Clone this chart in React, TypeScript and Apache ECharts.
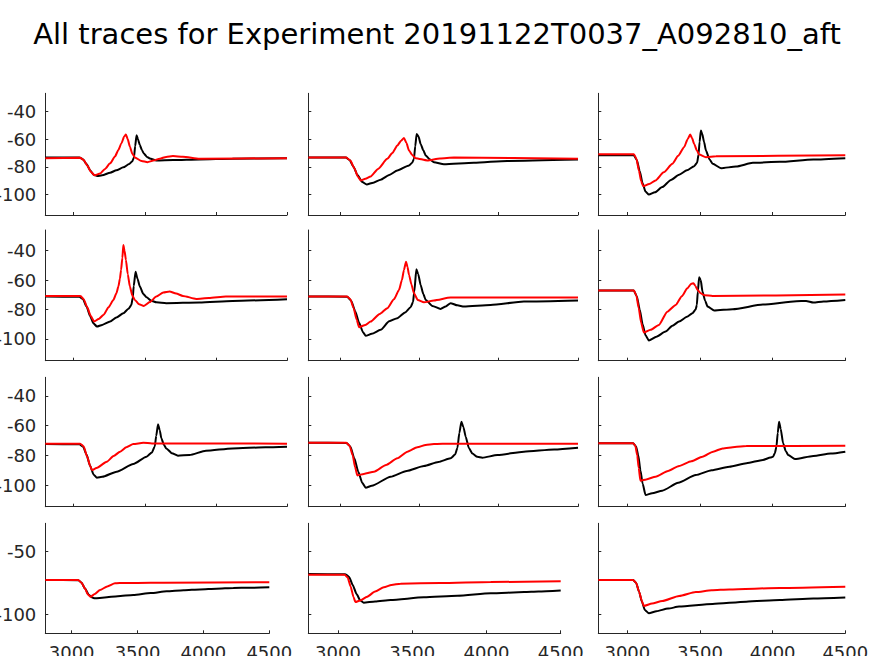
import React, { useEffect, useRef } from "react";
import * as echarts from "echarts";

const TITLE = "All traces for Experiment 20191122T0037_A092810_aft";
const X_TICKS = [3000, 3500, 4000, 4500];
const Y_TICKS_MAIN = [-100, -80, -60, -40];
const Y_TICKS_LAST = [-100, -50];
const X_RANGE = [2800, 4500];
const Y_RANGES = [
  [-115, -26.6],
  [-114.8, -26],
  [-114.6, -27.4],
  [-115, -28.1],
];

// row 1
const r1c1Black = [[2800,-73.2],[3040,-73.3],[3065,-74.5],[3090,-78],[3115,-82.5],[3140,-85.8],[3165,-86.7],[3200,-86.2],[3256,-84.3],[3300,-82.5],[3349,-80.4],[3390,-78],[3412,-76],[3424,-73],[3432,-65],[3442,-57],[3452,-60],[3465,-64.2],[3480,-68],[3493,-70.3],[3515,-72.8],[3535,-73.9],[3581,-75.4],[3700,-75.1],[3884,-74.6],[4116,-74.1],[4500,-73.7]];
const r1c1Red = [[2800,-73.7],[3045,-73.5],[3070,-75],[3095,-79],[3120,-83.5],[3147,-86.2],[3186,-84.8],[3220,-81.5],[3256,-77.5],[3290,-72.5],[3314,-67.8],[3335,-63],[3355,-58],[3367,-56.5],[3380,-60],[3395,-65.4],[3412,-70.5],[3430,-73.2],[3477,-75.8],[3519,-76.6],[3560,-75.5],[3605,-74.1],[3650,-72.8],[3698,-72.2],[3768,-72.7],[3884,-74.1],[4500,-73.7]];
const r1c2Black = [[2800,-73.3],[3036,-73.3],[3060,-75],[3085,-80],[3110,-86],[3140,-91],[3168,-92.8],[3210,-91.5],[3256,-89.4],[3310,-86],[3361,-82.7],[3435,-79],[3455,-77],[3466,-74.2],[3474,-65],[3483,-56.1],[3495,-58],[3508,-63.4],[3525,-68],[3540,-71.8],[3565,-74.5],[3592,-76.6],[3655,-78.1],[3844,-77.1],[4054,-75.7],[4500,-74.7]];
const r1c2Red = [[2800,-73.3],[3040,-73.3],[3065,-75.5],[3090,-81],[3112,-87],[3130,-89.9],[3160,-88.7],[3193,-87],[3240,-81.5],[3298,-74.2],[3330,-70],[3361,-64.6],[3385,-61],[3403,-59],[3418,-62.5],[3435,-68.2],[3455,-71.5],[3477,-73.7],[3550,-75.4],[3630,-74],[3718,-73.3],[4500,-74.2]];
const r1c3Black = [[2800,-71.6],[3044,-71.6],[3065,-75],[3085,-83],[3105,-92],[3125,-98],[3148,-100.2],[3190,-98.5],[3240,-94.7],[3300,-89.5],[3356,-85.8],[3410,-82.5],[3460,-79.5],[3480,-77],[3490,-71],[3497,-62],[3506,-53.7],[3515,-56],[3528,-62],[3541,-68.2],[3565,-74.5],[3587,-77.8],[3645,-81],[3748,-79.8],[3864,-77.1],[4049,-76.4],[4280,-74.7],[4500,-73.7]];
const r1c3Red = [[2800,-70.8],[3045,-70.8],[3062,-74],[3080,-83],[3095,-90.5],[3109,-94.2],[3150,-92.5],[3194,-89.9],[3250,-84],[3310,-77.8],[3350,-72],[3390,-65.8],[3415,-60],[3432,-56.6],[3445,-59],[3460,-63.4],[3478,-68],[3494,-71.1],[3541,-73],[3610,-72.3],[4500,-71.6]];

// row 2
const r2c1Black = [[2800,-71.2],[3040,-71.4],[3065,-73],[3090,-78],[3115,-84.5],[3140,-89.5],[3163,-91.6],[3200,-90.5],[3256,-88.2],[3300,-85.5],[3349,-82.5],[3385,-79.5],[3405,-77],[3415,-72],[3422,-64],[3435,-54.3],[3448,-59],[3465,-64.4],[3490,-69.5],[3512,-71.7],[3545,-74],[3581,-75.1],[3651,-75.7],[3884,-75.3],[4116,-74.2],[4500,-73]];
const r2c1Red = [[2800,-70.8],[3048,-70.9],[3070,-73],[3095,-78.5],[3120,-84.5],[3144,-88.2],[3175,-86.5],[3209,-83.7],[3245,-78.5],[3279,-73.5],[3300,-69],[3314,-64.4],[3325,-59],[3333,-53.1],[3342,-45],[3349,-36.2],[3357,-40],[3367,-46.3],[3380,-56],[3395,-64.4],[3412,-70.5],[3430,-73.5],[3460,-76.5],[3493,-77.6],[3535,-75],[3581,-71.2],[3630,-68.5],[3674,-67.8],[3720,-69.2],[3768,-70.8],[3861,-72.8],[3950,-72.2],[4070,-71.2],[4500,-71.2]];
const r2c2Black = [[2800,-71.2],[3045,-71.3],[3070,-74],[3095,-81],[3120,-89],[3145,-95.5],[3162,-97.9],[3200,-96.5],[3256,-93.8],[3310,-88],[3361,-85.9],[3410,-82],[3445,-78.5],[3460,-75],[3468,-68],[3481,-52.7],[3493,-56],[3508,-63.3],[3525,-69.5],[3540,-73.5],[3582,-77.6],[3634,-79.6],[3666,-78],[3697,-75.7],[3740,-77.2],[3781,-78],[3949,-76.9],[4159,-74.6],[4500,-73.9]];
const r2c2Red = [[2800,-71.2],[3045,-71.2],[3065,-73],[3085,-79],[3105,-87],[3120,-92],[3160,-90.5],[3193,-88.2],[3250,-83],[3298,-79.1],[3340,-73],[3372,-66.7],[3390,-60],[3403,-53.1],[3416,-47.5],[3425,-51],[3435,-56.5],[3450,-63],[3466,-69],[3490,-73.5],[3529,-75.1],[3592,-73.9],[3697,-71.9],[4500,-71.9]];
const r2c3Black = [[2800,-67.1],[3044,-67.1],[3065,-71],[3085,-80],[3105,-90],[3125,-97.5],[3148,-101.1],[3200,-98.5],[3263,-95],[3310,-91],[3356,-88.2],[3410,-85],[3448,-82.5],[3470,-80],[3478,-77],[3485,-68],[3494,-58.1],[3505,-60],[3517,-67.8],[3535,-74],[3552,-78],[3598,-80.7],[3725,-79.8],[3933,-76.7],[4164,-74.4],[4230,-74.2],[4280,-75.3],[4350,-74.5],[4500,-73.5]];
const r2c3Red = [[2800,-67.1],[3045,-67.1],[3062,-70.5],[3078,-79],[3095,-89],[3113,-95.7],[3160,-93.8],[3217,-90.5],[3275,-81.5],[3333,-76.9],[3375,-71],[3413,-65.6],[3440,-62.5],[3455,-62.2],[3468,-64],[3483,-66.7],[3505,-69],[3529,-70.3],[3587,-70.8],[4500,-69.9]];

// row 3
const r3c1Black = [[2800,-72.4],[3040,-72.5],[3065,-74],[3090,-79.5],[3115,-87],[3140,-93],[3163,-95.1],[3200,-94.5],[3302,-91],[3419,-85.8],[3512,-80.9],[3550,-78],[3570,-74],[3580,-67],[3593,-59.1],[3605,-63],[3616,-68.5],[3635,-73],[3651,-75.3],[3690,-78.5],[3733,-80.2],[3814,-79.8],[3930,-76.9],[4116,-75.3],[4349,-74.6],[4500,-74.2]];
const r3c1Red = [[2800,-72.1],[3045,-72.1],[3070,-74],[3095,-81],[3115,-87],[3128,-89.9],[3160,-88.5],[3233,-84.3],[3280,-80.5],[3326,-77.5],[3370,-74.5],[3419,-72.4],[3489,-71.5],[3550,-72],[4500,-72.1]];
const r3c2Black = [[2800,-71.5],[3040,-71.6],[3065,-74],[3090,-82],[3115,-91],[3140,-98.5],[3162,-101.8],[3200,-100.5],[3319,-94.4],[3420,-90.5],[3529,-87.2],[3620,-84.5],[3697,-82],[3725,-79.5],[3740,-75],[3752,-65],[3765,-57.3],[3778,-61],[3792,-67.4],[3812,-75],[3834,-78.7],[3865,-81],[3897,-81.6],[3992,-79.8],[4159,-77.5],[4350,-76],[4500,-74.8]];
const r3c2Red = [[2800,-71.5],[3040,-71.5],[3060,-73.5],[3080,-80],[3095,-88],[3109,-93.5],[3150,-92.5],[3214,-91],[3290,-86.5],[3361,-82],[3425,-77.5],[3487,-74.6],[3540,-73],[3592,-72.4],[3700,-72.1],[4500,-72.1]];
const r3c3Black = [[2800,-71.9],[3040,-71.9],[3060,-74],[3075,-80],[3090,-90],[3105,-99],[3125,-106.7],[3170,-105.5],[3240,-103.8],[3350,-98.5],[3471,-93.3],[3580,-90],[3702,-87.6],[3820,-85.3],[3933,-83.1],[3985,-81.5],[4003,-80.9],[4015,-78.5],[4026,-74.2],[4035,-65],[4044,-57.3],[4055,-62],[4072,-71.9],[4090,-77],[4107,-79.8],[4153,-82.5],[4280,-80.4],[4400,-78.8],[4500,-77.5]];
const r3c3Red = [[2800,-71.9],[3040,-71.9],[3055,-73.5],[3068,-80],[3078,-88.5],[3090,-97.1],[3130,-96.2],[3194,-94.4],[3280,-90.5],[3356,-87.2],[3440,-84],[3517,-80.9],[3590,-77.5],[3656,-75.3],[3740,-74.3],[3818,-73.7],[4500,-73.5]];

// row 4
const r4c1Black = [[2800,-72.9],[3051,-73],[3075,-75],[3100,-79.5],[3130,-84.5],[3155,-86.8],[3177,-87.4],[3250,-86.7],[3350,-85.7],[3468,-84.7],[3600,-83.2],[3721,-81.8],[3850,-81],[3974,-80.3],[4100,-79.8],[4227,-79.2],[4350,-79],[4500,-78.7]];
const r4c1Red = [[2800,-72.9],[3050,-72.9],[3075,-75],[3100,-79.5],[3125,-84.5],[3144,-86.1],[3175,-84],[3215,-80.8],[3270,-78],[3329,-75.5],[3400,-75.2],[3500,-75.3],[3700,-75],[4500,-74.7]];
const r4c2Black = [[2800,-68.2],[3050,-68.3],[3075,-70.5],[3100,-77],[3125,-84],[3150,-89],[3173,-90.8],[3250,-89.8],[3354,-88.7],[3579,-86.6],[3804,-85.3],[4029,-83.4],[4254,-82.4],[4350,-82],[4500,-81.1]];
const r4c2Red = [[2800,-68.7],[3045,-68.7],[3065,-71],[3085,-78],[3105,-86.5],[3117,-90.3],[3150,-89],[3196,-86.1],[3250,-82],[3309,-78.7],[3360,-76.8],[3421,-75.8],[3691,-75.3],[4029,-74.5],[4500,-73.9]];
const r4c3Black = [[2800,-72.9],[3040,-72.9],[3060,-75],[3080,-82],[3100,-90],[3120,-96.5],[3148,-99.2],[3200,-97.5],[3280,-95.5],[3356,-93.9],[3587,-91.8],[3818,-90],[4049,-88.7],[4280,-87.6],[4500,-86.8]];
const r4c3Red = [[2800,-72.9],[3040,-72.9],[3060,-75],[3080,-82],[3100,-89.5],[3113,-93.4],[3170,-91.5],[3240,-89.5],[3356,-85.5],[3471,-82.4],[3580,-81],[3702,-80.3],[4049,-79.2],[4500,-78.2]];

const PANELS = [
  [r1c1Black, r1c1Red], [r1c2Black, r1c2Red], [r1c3Black, r1c3Red],
  [r2c1Black, r2c1Red], [r2c2Black, r2c2Red], [r2c3Black, r2c3Red],
  [r3c1Black, r3c1Red], [r3c2Black, r3c2Red], [r3c3Black, r3c3Red],
  [r4c1Black, r4c1Red], [r4c2Black, r4c2Red], [r4c3Black, r4c3Red],
];

// layout (pixels)
const COL_LEFT = [45.3, 308.3, 598.3];
const COL_RIGHT = [287, 578, 845.3];
const COL_RIGHT_LAST = [269.3, 560.7, 845.3];
const ROW_TOP = [93.3, 230, 377.3, 523.3];
const ROW_BOTTOM = [215, 360.7, 506.7, 633.3];

const FONT = "DejaVu Sans";
const INK = "#262626";
const TICK_FONT = 18;

export default function App() {
  const ref = useRef<HTMLDivElement>(null);
  useEffect(() => {
    if (!ref.current) return;
    const chart = echarts.init(ref.current, null, { renderer: "svg" });
    const grids: any[] = [];
    const xAxes: any[] = [];
    const yAxes: any[] = [];
    const series: any[] = [];
    PANELS.forEach((pair, i) => {
      const r = Math.floor(i / 3);
      const c = i % 3;
      const left = COL_LEFT[c];
      const right = r === 3 ? COL_RIGHT_LAST[c] : COL_RIGHT[c];
      grids.push({
        left,
        top: ROW_TOP[r],
        width: right - left,
        height: ROW_BOTTOM[r] - ROW_TOP[r],
        containLabel: false,
        outerBoundsMode: "none",
      });
      const lineStyle = { color: INK, width: 1 };
      xAxes.push({
        type: "value",
        gridIndex: i,
        min: X_RANGE[0],
        max: X_RANGE[1],
        axisLine: { show: true, onZero: false, lineStyle },
        axisTick: { show: true, inside: true, length: 3, customValues: X_TICKS, lineStyle },
        axisLabel: {
          show: r === 3,
          customValues: X_TICKS,
          formatter: (v: number) => String(v),
          fontSize: TICK_FONT,
          fontFamily: FONT,
          color: INK,
          margin: 10,
        },
        splitLine: { show: false },
      });
      const yt = r === 3 ? Y_TICKS_LAST : Y_TICKS_MAIN;
      yAxes.push({
        type: "value",
        gridIndex: i,
        min: Y_RANGES[r][0],
        max: Y_RANGES[r][1],
        axisLine: { show: true, onZero: false, lineStyle },
        axisTick: { show: true, inside: true, length: 3, customValues: yt, lineStyle },
        axisLabel: {
          show: c === 0,
          customValues: yt,
          formatter: (v: number) => String(v),
          fontSize: TICK_FONT,
          fontFamily: FONT,
          color: INK,
          margin: 9,
        },
        splitLine: { show: false },
      });
      const colors = ["#000000", "#ff0000"];
      pair.forEach((d, k) => {
        series.push({
          type: "line",
          xAxisIndex: i,
          yAxisIndex: i,
          data: d,
          showSymbol: false,
          symbol: "none",
          smooth: 0.2,
          smoothMonotone: "x",
          lineStyle: { color: colors[k], width: 2 },
          z: 2 + k,
        });
      });
    });
    chart.setOption({
      animation: false,
      backgroundColor: "#ffffff",
      title: {
        text: TITLE,
        left: "center",
        top: 14,
        textStyle: { fontFamily: FONT, fontSize: 29, fontWeight: "normal", color: "#000000" },
      },
      grid: grids,
      xAxis: xAxes,
      yAxis: yAxes,
      series,
    });
    return () => chart.dispose();
  }, []);
  return (
    <div
      ref={ref}
      style={{ position: "fixed", left: 0, top: 0, width: 874, height: 656, background: "#fff" }}
    />
  );
}
